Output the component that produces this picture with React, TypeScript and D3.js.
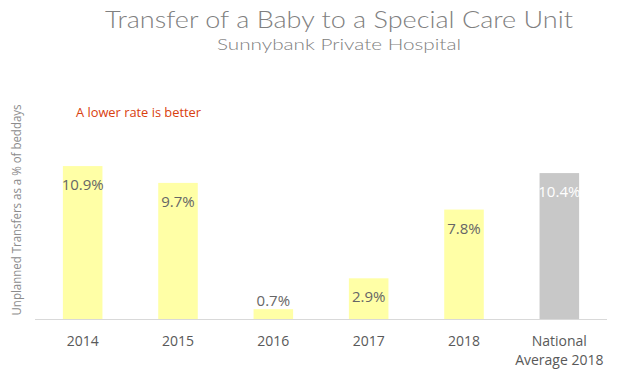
import React from "react";
import * as d3 from "d3";

const categories = ["2014", "2015", "2016", "2017", "2018", "National Average 2018"];
const categoryLines = [["2014"], ["2015"], ["2016"], ["2017"], ["2018"], ["National", "Average 2018"]];
const values = [10.9, 9.7, 0.7, 2.9, 7.8, 10.4];
const isNational = [false, false, false, false, false, true];

const W = 622;
const H = 378;
const baseY = 319;
const left = 35;
const right = 607;

export default function App() {
  const x = d3.scaleBand<string>().domain(categories).range([left, right]).paddingInner(0.585).paddingOuter(0.2925);
  const y = d3.scaleLinear().domain([0, 12]).range([baseY, baseY - 12 * 14.03]);
  const font = "'Open Sans', 'Liberation Sans', sans-serif";
  return (
    <svg width={W} height={H} style={{ position: "absolute", left: 0, top: 0, background: "#fff" }}>
      <text x={339} y={28} textAnchor="middle" fontFamily="Lato, 'DejaVu Sans', sans-serif" fontWeight={300} fontSize={24} fill="#808080" textLength={468} lengthAdjust="spacingAndGlyphs">
        Transfer of a Baby to a Special Care Unit
      </text>
      <text x={339} y={50} textAnchor="middle" fontFamily="Lato, 'DejaVu Sans', sans-serif" fontWeight={300} fontSize={15} fill="#808080" textLength={244} lengthAdjust="spacingAndGlyphs">
        Sunnybank Private Hospital
      </text>
      <text x={76} y={117} fontFamily={font} fontSize={13} fill="#D9400E" textLength={125} lengthAdjust="spacingAndGlyphs">
        A lower rate is better
      </text>
      <text transform={`translate(21,${210}) rotate(-90)`} textAnchor="middle" fontFamily={font} fontSize={12} fill="#8C8C8C" textLength={211} lengthAdjust="spacingAndGlyphs">
        Unplanned Transfers as a % of beddays
      </text>
      {categories.map((c, i) => {
        const bx = x(c)!;
        const by = y(values[i]);
        const bh = baseY - by;
        const inside = bh > 30;
        return (
          <g key={c}>
            <rect x={bx} y={by} width={x.bandwidth()} height={bh} fill={isNational[i] ? "#C8C8C8" : "#FFFFA6"} />
            <text
              x={bx + x.bandwidth() / 2}
              y={inside ? by + 24 : by - 3}
              textAnchor="middle"
              fontFamily={font}
              fontSize={15}
              fill={isNational[i] ? "#FFFFFF" : "#666666"}
            >
              {values[i].toFixed(1) + "%"}
            </text>
            {categoryLines[i].map((line, j) => (
              <text key={j} x={bx + x.bandwidth() / 2} y={346 + j * 19} textAnchor="middle" fontFamily={font} fontSize={14} fill="#595959">
                {line}
              </text>
            ))}
          </g>
        );
      })}
      <line x1={left} x2={right} y1={baseY + 0.5} y2={baseY + 0.5} stroke="#D9D9D9" strokeWidth={1} />
    </svg>
  );
}
